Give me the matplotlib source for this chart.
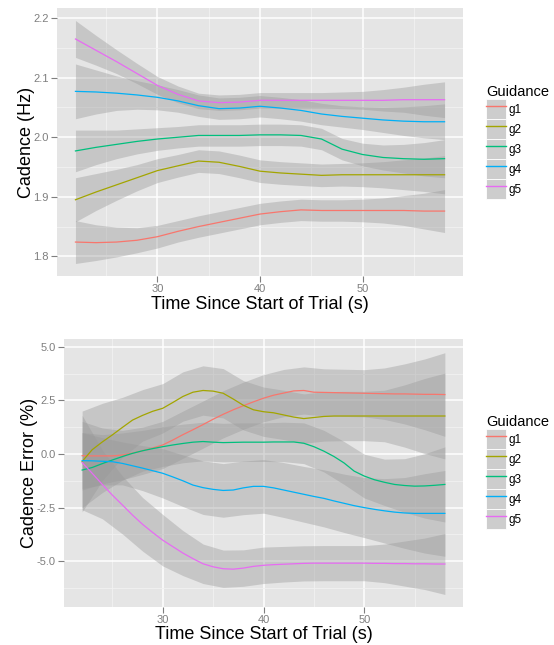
import matplotlib
matplotlib.use("Agg")
import matplotlib.pyplot as plt
from matplotlib.patches import Patch
from matplotlib.lines import Line2D
from matplotlib.legend_handler import HandlerTuple
from matplotlib.ticker import MultipleLocator, FormatStrFormatter

plt.rcParams['font.family'] = ['Liberation Sans', 'DejaVu Sans']

groups = ['g1', 'g2', 'g3', 'g4', 'g5']
colors = ['#F8766D', '#A3A500', '#00BF7D', '#00B0F6', '#E76BF3']

# ---- top panel: cadence (Hz), read every 2 s ----
cad_time = [22, 24, 26, 28, 30, 32, 34, 36, 38, 40, 42, 44, 46, 48, 50, 52, 54, 56, 58]
cad_g1 = [1.824, 1.823, 1.824, 1.827, 1.833, 1.842, 1.850, 1.857, 1.864, 1.871, 1.875, 1.878, 1.877, 1.877, 1.877, 1.877, 1.877, 1.876, 1.876]
cad_g2 = [1.895, 1.908, 1.920, 1.932, 1.944, 1.952, 1.960, 1.958, 1.951, 1.943, 1.940, 1.938, 1.936, 1.937, 1.937, 1.937, 1.937, 1.937, 1.937]
cad_g3 = [1.977, 1.983, 1.988, 1.993, 1.997, 2.000, 2.003, 2.003, 2.003, 2.004, 2.004, 2.003, 1.997, 1.980, 1.971, 1.966, 1.964, 1.963, 1.964]
cad_g4 = [2.077, 2.076, 2.074, 2.071, 2.067, 2.061, 2.053, 2.048, 2.049, 2.052, 2.049, 2.045, 2.039, 2.035, 2.032, 2.029, 2.027, 2.026, 2.026]
cad_g5 = [2.165, 2.146, 2.127, 2.107, 2.087, 2.072, 2.061, 2.058, 2.059, 2.062, 2.062, 2.062, 2.062, 2.062, 2.062, 2.062, 2.063, 2.063, 2.063]
# half width of the grey confidence band
cad_se_g1 = [0.036, 0.030, 0.025, 0.021, 0.019, 0.018, 0.018, 0.018, 0.018, 0.018, 0.018, 0.018, 0.018, 0.018, 0.019, 0.021, 0.025, 0.030, 0.036]
cad_se_g2 = [0.037, 0.031, 0.026, 0.022, 0.020, 0.019, 0.019, 0.019, 0.019, 0.019, 0.019, 0.019, 0.019, 0.019, 0.020, 0.022, 0.025, 0.028, 0.032]
cad_se_g3 = [0.035, 0.029, 0.024, 0.021, 0.019, 0.018, 0.018, 0.018, 0.018, 0.018, 0.018, 0.018, 0.018, 0.018, 0.019, 0.021, 0.024, 0.028, 0.032]
cad_se_g4 = [0.046, 0.037, 0.029, 0.024, 0.021, 0.019, 0.018, 0.018, 0.018, 0.018, 0.018, 0.018, 0.018, 0.018, 0.019, 0.021, 0.024, 0.027, 0.030]
cad_se_g5 = [0.031, 0.025, 0.020, 0.017, 0.015, 0.014, 0.013, 0.013, 0.013, 0.013, 0.013, 0.013, 0.013, 0.014, 0.015, 0.018, 0.021, 0.026, 0.030]

# ---- bottom panel: cadence error (%), fit read every 1 s ----
err_time = [22, 23, 24, 25, 26, 27, 28, 29, 30, 31, 32, 33, 34, 35, 36, 37, 38, 39, 40,
            41, 42, 43, 44, 45, 46, 47, 48, 49, 50, 51, 52, 53, 54, 55, 56, 57, 58]
err_g1 = [-0.08, -0.09, -0.09, -0.09, -0.05, 0.04, 0.15, 0.28, 0.42, 0.65, 0.90, 1.13, 1.37, 1.62, 1.85, 2.06, 2.25, 2.43, 2.60,
          2.74, 2.84, 2.94, 2.96, 2.88, 2.87, 2.86, 2.85, 2.84, 2.83, 2.82, 2.81, 2.80, 2.80, 2.79, 2.78, 2.78, 2.77]
err_g2 = [-0.35, 0.20, 0.56, 0.89, 1.24, 1.58, 1.80, 1.99, 2.13, 2.40, 2.68, 2.88, 2.96, 2.93, 2.83, 2.56, 2.27, 2.06, 1.97,
          1.92, 1.82, 1.72, 1.65, 1.70, 1.75, 1.77, 1.77, 1.77, 1.77, 1.77, 1.77, 1.77, 1.77, 1.77, 1.77, 1.77, 1.77]
err_g3 = [-0.75, -0.63, -0.45, -0.28, -0.12, 0.03, 0.15, 0.25, 0.34, 0.42, 0.49, 0.55, 0.58, 0.55, 0.53, 0.54, 0.55, 0.55, 0.55,
          0.56, 0.56, 0.56, 0.50, 0.34, 0.13, -0.12, -0.42, -0.80, -1.03, -1.20, -1.32, -1.42, -1.47, -1.50, -1.49, -1.46, -1.42]
err_g4 = [-0.31, -0.32, -0.34, -0.36, -0.44, -0.55, -0.66, -0.78, -0.90, -1.07, -1.25, -1.45, -1.57, -1.65, -1.70, -1.68, -1.58, -1.51, -1.51,
          -1.58, -1.68, -1.78, -1.88, -1.98, -2.07, -2.19, -2.30, -2.41, -2.50, -2.58, -2.65, -2.71, -2.75, -2.77, -2.77, -2.77, -2.77]
err_g5 = [-0.40, -0.90, -1.42, -1.92, -2.38, -2.85, -3.28, -3.66, -4.02, -4.32, -4.62, -4.88, -5.12, -5.26, -5.35, -5.37, -5.32, -5.24, -5.19,
          -5.16, -5.14, -5.12, -5.10, -5.09, -5.09, -5.09, -5.09, -5.09, -5.09, -5.10, -5.10, -5.11, -5.11, -5.12, -5.12, -5.13, -5.13]
# band half width, read every 2 s
band_time = [22, 24, 26, 28, 30, 32, 34, 36, 38, 40, 42, 44, 46, 48, 50, 52, 54, 56, 58]
err_se_g1 = [1.60, 1.30, 1.15, 1.10, 1.10, 1.10, 1.10, 1.10, 1.10, 1.10, 1.10, 1.10, 1.10, 1.10, 1.10, 1.20, 1.40, 1.65, 1.95]
err_se_g2 = [2.35, 1.80, 1.40, 1.20, 1.15, 1.15, 1.15, 1.15, 1.15, 1.15, 1.15, 1.15, 1.15, 1.15, 1.15, 1.20, 1.45, 1.75, 2.00]
err_se_g3 = [1.75, 1.35, 1.10, 0.95, 0.92, 0.90, 0.90, 0.90, 0.90, 0.90, 0.92, 0.95, 0.97, 1.00, 1.02, 1.08, 1.25, 1.50, 1.75]
err_se_g4 = [1.30, 1.10, 1.00, 1.05, 1.15, 1.20, 1.25, 1.25, 1.25, 1.25, 1.28, 1.30, 1.33, 1.36, 1.40, 1.50, 1.65, 1.85, 2.00]
err_se_g5 = [2.20, 1.60, 1.35, 1.25, 1.20, 1.05, 0.92, 0.87, 0.85, 0.85, 0.83, 0.82, 0.82, 0.82, 0.82, 0.90, 1.05, 1.20, 1.42]

cad_fit = [cad_g1, cad_g2, cad_g3, cad_g4, cad_g5]
cad_se = [cad_se_g1, cad_se_g2, cad_se_g3, cad_se_g4, cad_se_g5]
err_fit = [err_g1, err_g2, err_g3, err_g4, err_g5]
err_se = [err_se_g1, err_se_g2, err_se_g3, err_se_g4, err_se_g5]

fig = plt.figure(figsize=(5.54, 6.45), dpi=100)
ax1 = fig.add_axes([57 / 554, 1 - 276 / 645, 406 / 554, 268 / 645])
ax2 = fig.add_axes([64 / 554, 1 - 606.7 / 645, 399 / 554, 267.7 / 645])


def draw_panel(ax, line_t, fits, band_t, ses):
    # ggplot draws ribbon then line, group by group
    for fit, se, col in zip(fits, ses, colors):
        fit_at_band = [fit[line_t.index(t)] for t in band_t]
        lo = [f - s for f, s in zip(fit_at_band, se)]
        hi = [f + s for f, s in zip(fit_at_band, se)]
        ax.fill_between(band_t, lo, hi, color='#999999', alpha=0.4, linewidth=0)
        ax.plot(line_t, fit, color=col, linewidth=0.9)
    ax.set_facecolor('#E5E5E5')
    for sp in ax.spines.values():
        sp.set_visible(False)
    ax.set_axisbelow(True)
    ax.xaxis.set_major_locator(MultipleLocator(10))
    ax.xaxis.set_minor_locator(MultipleLocator(5))
    ax.grid(True, which='major', color='white', linewidth=1.1)
    ax.grid(True, which='minor', color='#F2F2F2', linewidth=0.6)
    ax.tick_params(which='major', length=4, width=0.8, color='#7F7F7F',
                   labelcolor='#7F7F7F', labelsize=8, pad=2)
    ax.tick_params(which='minor', length=0)
    ax.set_xlim(20.2, 59.8)
    ax.set_xlabel('Time Since Start of Trial (s)', fontsize=13, labelpad=1)


draw_panel(ax1, cad_time, cad_fit, cad_time, cad_se)
ax1.set_ylim(1.767, 2.217)
ax1.yaxis.set_major_locator(MultipleLocator(0.1))
ax1.yaxis.set_minor_locator(MultipleLocator(0.05))
ax1.yaxis.set_major_formatter(FormatStrFormatter('%.1f'))
ax1.set_ylabel('Cadence (Hz)', fontsize=13, labelpad=-1)

draw_panel(ax2, err_time, err_fit, band_time, err_se)
ax2.set_ylim(-7.12, 5.36)
ax2.yaxis.set_major_locator(MultipleLocator(2.5))
ax2.yaxis.set_minor_locator(MultipleLocator(1.25))
ax2.yaxis.set_major_formatter(FormatStrFormatter('%.1f'))
ax2.set_ylabel('Cadence Error (%)', fontsize=13, labelpad=-1)

for top in (79, 409.5):
    handles = [(Patch(facecolor='#CDCDCD', edgecolor='white', linewidth=0.6),
                Line2D([], [], color=c, linewidth=1.0)) for c in colors]
    fig.legend(handles, groups, loc='upper left',
               bbox_to_anchor=(480 / 554, 1 - top / 645),
               handler_map={tuple: HandlerTuple(ndivide=1, pad=0)},
               title='Guidance', title_fontsize=10.5, fontsize=8.5,
               frameon=False, borderpad=0, labelspacing=0,
               handlelength=1.7, handleheight=2.23, handletextpad=0.2,
               alignment='left')

fig.savefig('out.png', dpi=100)
